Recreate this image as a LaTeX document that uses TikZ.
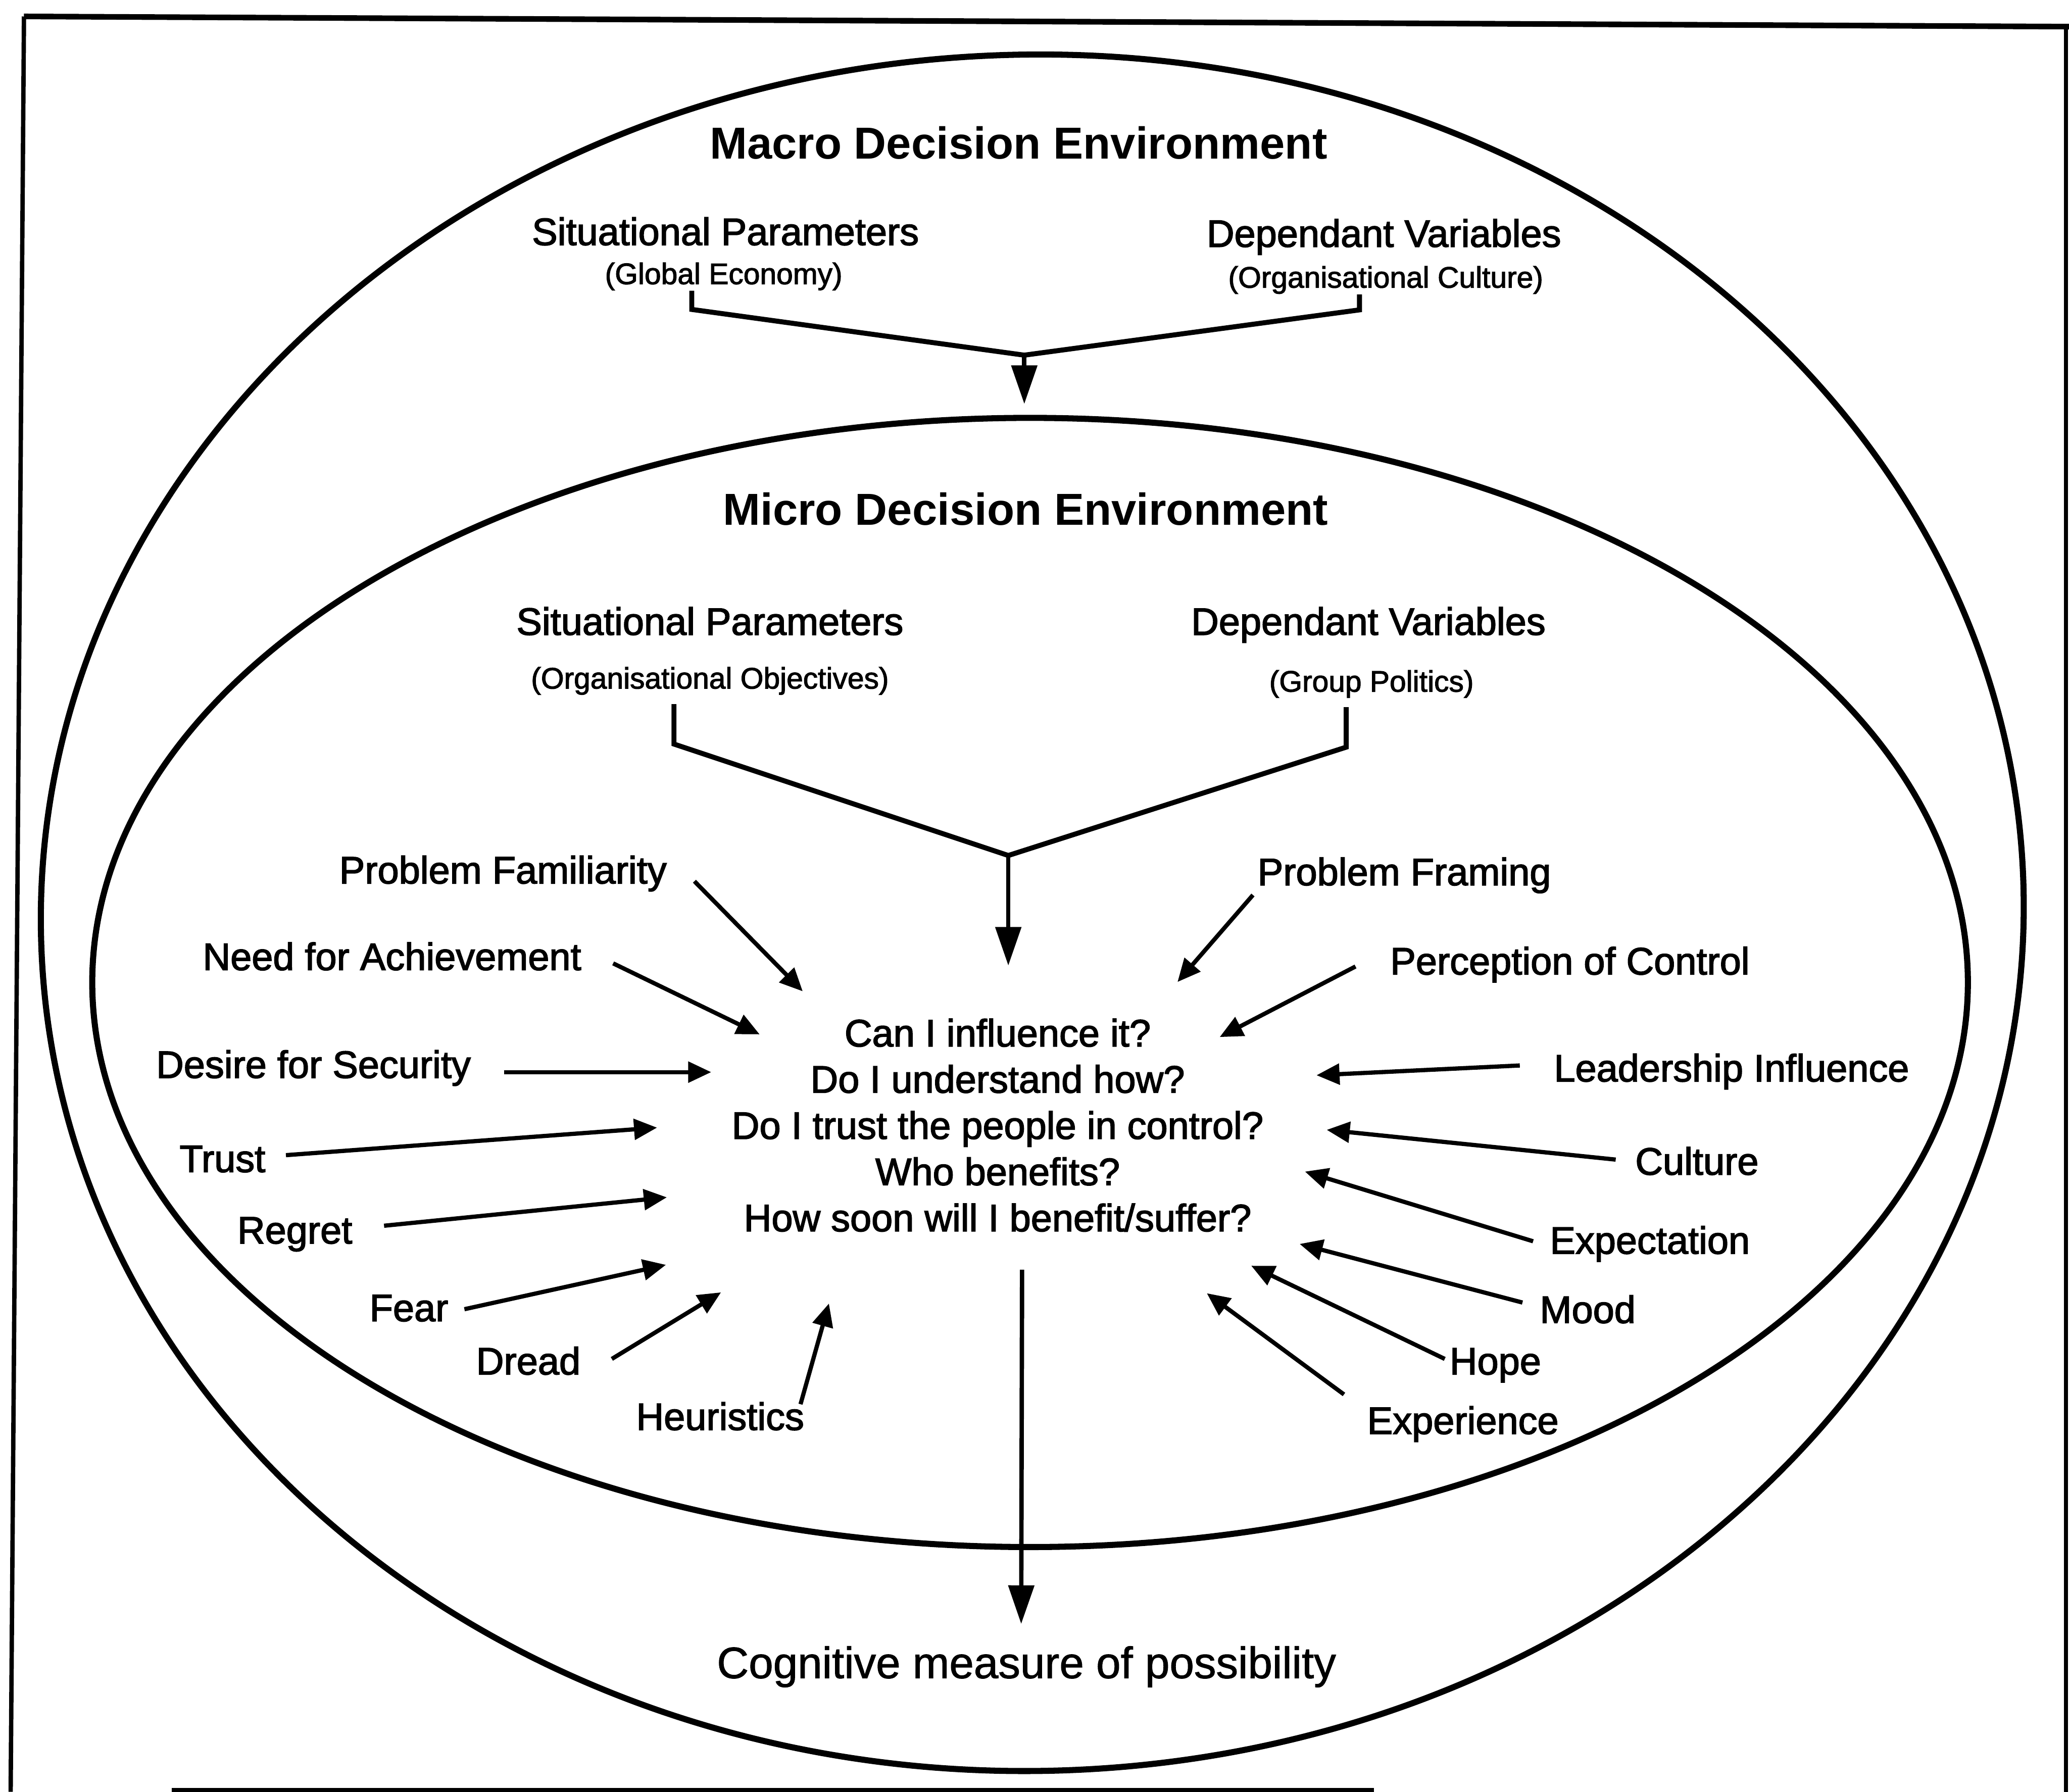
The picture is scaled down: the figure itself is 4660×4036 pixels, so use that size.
\documentclass[tikz,border=0pt]{standalone}
\usepackage{fontspec}
\setmainfont{Liberation Sans}
% heavier faces for the printed labels
\newfontfamily\inkfont{Liberation Sans}[FakeBold=2.2]
\newfontfamily\subink{Liberation Sans}[FakeBold=2.0]
\newfontfamily\lightink{Liberation Sans}[FakeBold=1.2]
\usetikzlibrary{arrows.meta}
\begin{document}
\begin{tikzpicture}[x=0.01cm,y=-0.01cm,
  lbl/.style={anchor=base,inner sep=0pt,font=\inkfont\fontsize{24.5}{29.6}\selectfont},
  ttl/.style={anchor=base,inner sep=0pt,font=\fontsize{28.7}{34}\selectfont\bfseries},
  sub/.style={anchor=base,inner sep=0pt,font=\subink\fontsize{19}{23}\selectfont},
  qst/.style={inner sep=0pt,align=center,font=\inkfont\fontsize{24.5}{29.6}\selectfont},
  result/.style={anchor=base,inner sep=0pt,font=\lightink\fontsize{28.2}{34}\selectfont},
  ring/.style={line width=3.9pt},
  frame/.style={line width=2.8pt},
  conn/.style={line width=3.2pt,line join=miter},
  infl/.style={line width=2.7pt,-{Triangle[length=0.52cm,width=0.46cm]}},
  flow/.style={line width=2.8pt,-{Triangle[length=0.87cm,width=0.57cm]}},
]
\useasboundingbox (0,0) rectangle (4660,4036);

% outer frame
\draw[frame,line width=3.6pt] (54,37) -- (4660,60);
\draw[frame] (54,37) -- (24,4036);
\draw[frame] (4653,60) -- (4653,4036);
\draw[frame] (387,4032) -- (3095,4032);

% environments
\draw[ring,shift={(2325,2056)},rotate=1.5] (0,0) ellipse [x radius=22.32cm, y radius=19.32cm];
\draw[ring] (2320,2213) ellipse [x radius=21.11cm, y radius=12.71cm];

% macro level
\node[ttl] (macro) at (2294,358) {Macro Decision Environment};
\node[lbl] (msp) at (1634,552) {Situational Parameters};
\node[sub] (mspx) at (1630,640) {(Global Economy)};
\node[lbl] (mdv) at (3117,556) {Dependant Variables};
\node[sub] (mdvx) at (3121,648) {(Organisational Culture)};
\coordinate (mL1) at (1558,655);
\coordinate (mL2) at (1558,697);
\coordinate (mR1) at (3062,663);
\coordinate (mR2) at (3062,698);
\coordinate (mJ) at (2307,800);
\coordinate (mT) at (2307,910);
\draw[conn] (mL1) -- (mL2) -- (mJ) -- (mR2) -- (mR1);
\draw[flow] (mJ) -- (mT);

% micro level
\node[ttl] (micro) at (2310,1183) {Micro Decision Environment};
\node[lbl] (isp) at (1599,1430) {Situational Parameters};
\node[sub] (ispx) at (1599,1551) {(Organisational Objectives)};
\node[lbl] (idv) at (3082,1430) {Dependant Variables};
\node[sub] (idvx) at (3089,1558) {(Group Politics)};
\coordinate (iL1) at (1518,1586);
\coordinate (iL2) at (1518,1676);
\coordinate (iR1) at (3032,1593);
\coordinate (iR2) at (3032,1683);
\coordinate (iJ) at (2271,1927);
\coordinate (iT) at (2271,2175);
\draw[conn] (iL1) -- (iL2) -- (iJ) -- (iR2) -- (iR1);
\draw[flow] (iJ) -- (iT);

% the questions
\node[qst,anchor=north] (q) at (2247,2294) {Can I influence it?\\Do I understand how?\\Do I trust the people in control?\\Who benefits?\\How soon will I benefit/suffer?};

% influences on the left
\node[lbl] (pf) at (1133,1990) {Problem Familiarity};
\node[lbl] (na) at (883,2185) {Need for Achievement};
\node[lbl] (ds) at (706,2428) {Desire for Security};
\node[lbl] (tr) at (501,2640) {Trust};
\node[lbl] (rg) at (664,2801) {Regret};
\node[lbl] (fe) at (921,2976) {Fear};
\node[lbl] (dr) at (1190,3096) {Dread};
\node[lbl] (he) at (1622,3221) {Heuristics};

\coordinate (pfS) at (1564,1985); \coordinate (pfE) at (1808,2233);
\coordinate (naS) at (1381,2170); \coordinate (naE) at (1711,2330);
\coordinate (dsS) at (1135,2415); \coordinate (dsE) at (1602,2415);
\coordinate (trS) at (644,2602);  \coordinate (trE) at (1480,2540);
\coordinate (rgS) at (865,2761);  \coordinate (rgE) at (1502,2697);
\coordinate (feS) at (1046,2949); \coordinate (feE) at (1500,2849);
\coordinate (drS) at (1378,3061); \coordinate (drE) at (1624,2911);
\coordinate (heS) at (1803,3163); \coordinate (heE) at (1867,2936);
\foreach \k in {pf,na,ds,tr,rg,fe,dr,he} \draw[infl] (\k S) -- (\k E);

% influences on the right
\node[lbl] (fr) at (3163,1994) {Problem Framing};
\node[lbl] (pc) at (3536,2195) {Perception of Control};
\node[lbl] (li) at (3900,2436) {Leadership Influence};
\node[lbl] (cu) at (3822,2646) {Culture};
\node[lbl] (ex) at (3716,2824) {Expectation};
\node[lbl] (mo) at (3576,2980) {Mood};
\node[lbl] (ho) at (3368,3096) {Hope};
\node[lbl] (xp) at (3295,3230) {Experience};

\coordinate (frS) at (2822,2016); \coordinate (frE) at (2652,2212);
\coordinate (pcS) at (3053,2177); \coordinate (pcE) at (2747,2336);
\coordinate (liS) at (3423,2400); \coordinate (liE) at (2965,2422);
\coordinate (cuS) at (3639,2612); \coordinate (cuE) at (2988,2545);
\coordinate (exS) at (3453,2796); \coordinate (exE) at (2939,2639);
\coordinate (moS) at (3429,2934); \coordinate (moE) at (2927,2802);
\coordinate (hoS) at (3254,3061); \coordinate (hoE) at (2818,2851);
\coordinate (xpS) at (3027,3141); \coordinate (xpE) at (2718,2913);
\foreach \k in {fr,pc,li,cu,ex,mo,ho,xp} \draw[infl] (\k S) -- (\k E);

% outcome
\coordinate (oS) at (2302,2860);
\coordinate (oT) at (2300,3658);
\draw[flow] (oS) -- (oT);
\node[result] (res) at (2312,3780) {Cognitive measure of possibility};
\end{tikzpicture}
\end{document}
